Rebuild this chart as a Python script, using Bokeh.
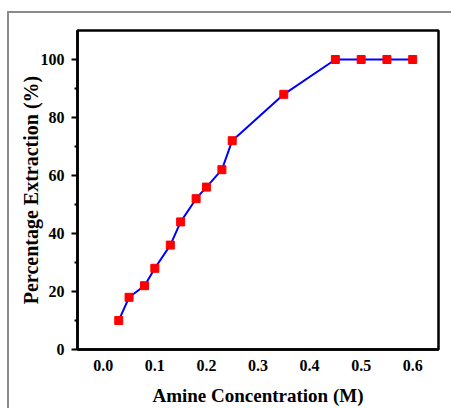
from bokeh.plotting import figure
from bokeh.models import FixedTicker, PrintfTickFormatter, Range1d, InlineStyleSheet
from bokeh.embed import file_html
from bokeh.resources import INLINE

conc = [0.03, 0.05, 0.08, 0.10, 0.13, 0.15, 0.18, 0.20, 0.23, 0.25, 0.35, 0.45, 0.50, 0.55, 0.60]
extraction = [10, 18, 22, 28, 36, 44, 52, 56, 62, 72, 88, 100, 100, 100, 100]
x_ticks = [0.0, 0.1, 0.2, 0.3, 0.4, 0.5, 0.6]
y_ticks = [0, 20, 40, 60, 80, 100]
y_minor = [10, 30, 50, 70, 90]

FONT = "Liberation Serif"

p = figure(width=451, height=408, output_backend="svg", toolbar_location=None,
           x_range=Range1d(-0.05, 0.65), y_range=Range1d(0, 110),
           min_border_left=77, min_border_top=30, min_border_right=13, min_border_bottom=59)
p.grid.visible = False
p.background_fill_color = "white"
p.border_fill_color = "white"
p.outline_line_color = "black"
p.outline_line_width = 2.5

p.line(conc, extraction, line_color="#0000ff", line_width=2)
p.scatter(conc, extraction, marker="square", size=8, fill_color="#ff0000", line_color="#ff0000")

xa = p.xaxis[0]
xa.ticker = FixedTicker(ticks=x_ticks)
xa.formatter = PrintfTickFormatter(format="%.1f")
xa.axis_line_width = 2.5
xa.major_tick_out = 0
xa.major_tick_in = 0
xa.minor_tick_out = 0
xa.minor_tick_in = 0
xa.major_label_standoff = 10
xa.axis_label = "Amine Concentration (M)"
xa.axis_label_standoff = 11
xa.axis_label_text_font_size = "19px"

ya = p.yaxis[0]
ya.ticker = FixedTicker(ticks=y_ticks, minor_ticks=y_minor)
ya.axis_line_width = 2.5
ya.major_tick_out = 6
ya.major_tick_in = 0
ya.major_tick_line_width = 2
ya.minor_tick_out = 3
ya.minor_tick_in = 0
ya.minor_tick_line_width = 2
ya.major_label_standoff = 7
ya.axis_label = "Percentage Extraction (%)"
ya.axis_label_standoff = -4
ya.axis_label_text_font_size = "20px"

for ax in (xa, ya):
    ax.major_label_text_font = FONT
    ax.major_label_text_font_style = "bold"
    ax.major_label_text_font_size = "16px"
    ax.major_label_text_color = "black"
    ax.axis_label_text_font = FONT
    ax.axis_label_text_font_style = "bold"
    ax.axis_label_text_color = "black"

css = """
:host { position: relative; }
:host::after {
  content: "";
  position: absolute;
  left: 7px; top: 11px; right: 0px; bottom: 0px;
  border-left: 2px solid #8a8a8a;
  border-top: 2px solid #8a8a8a;
  pointer-events: none;
  z-index: 5;
}
"""
p.stylesheets = [InlineStyleSheet(css=css)]

open("out.html", "w").write(file_html(p, INLINE))
